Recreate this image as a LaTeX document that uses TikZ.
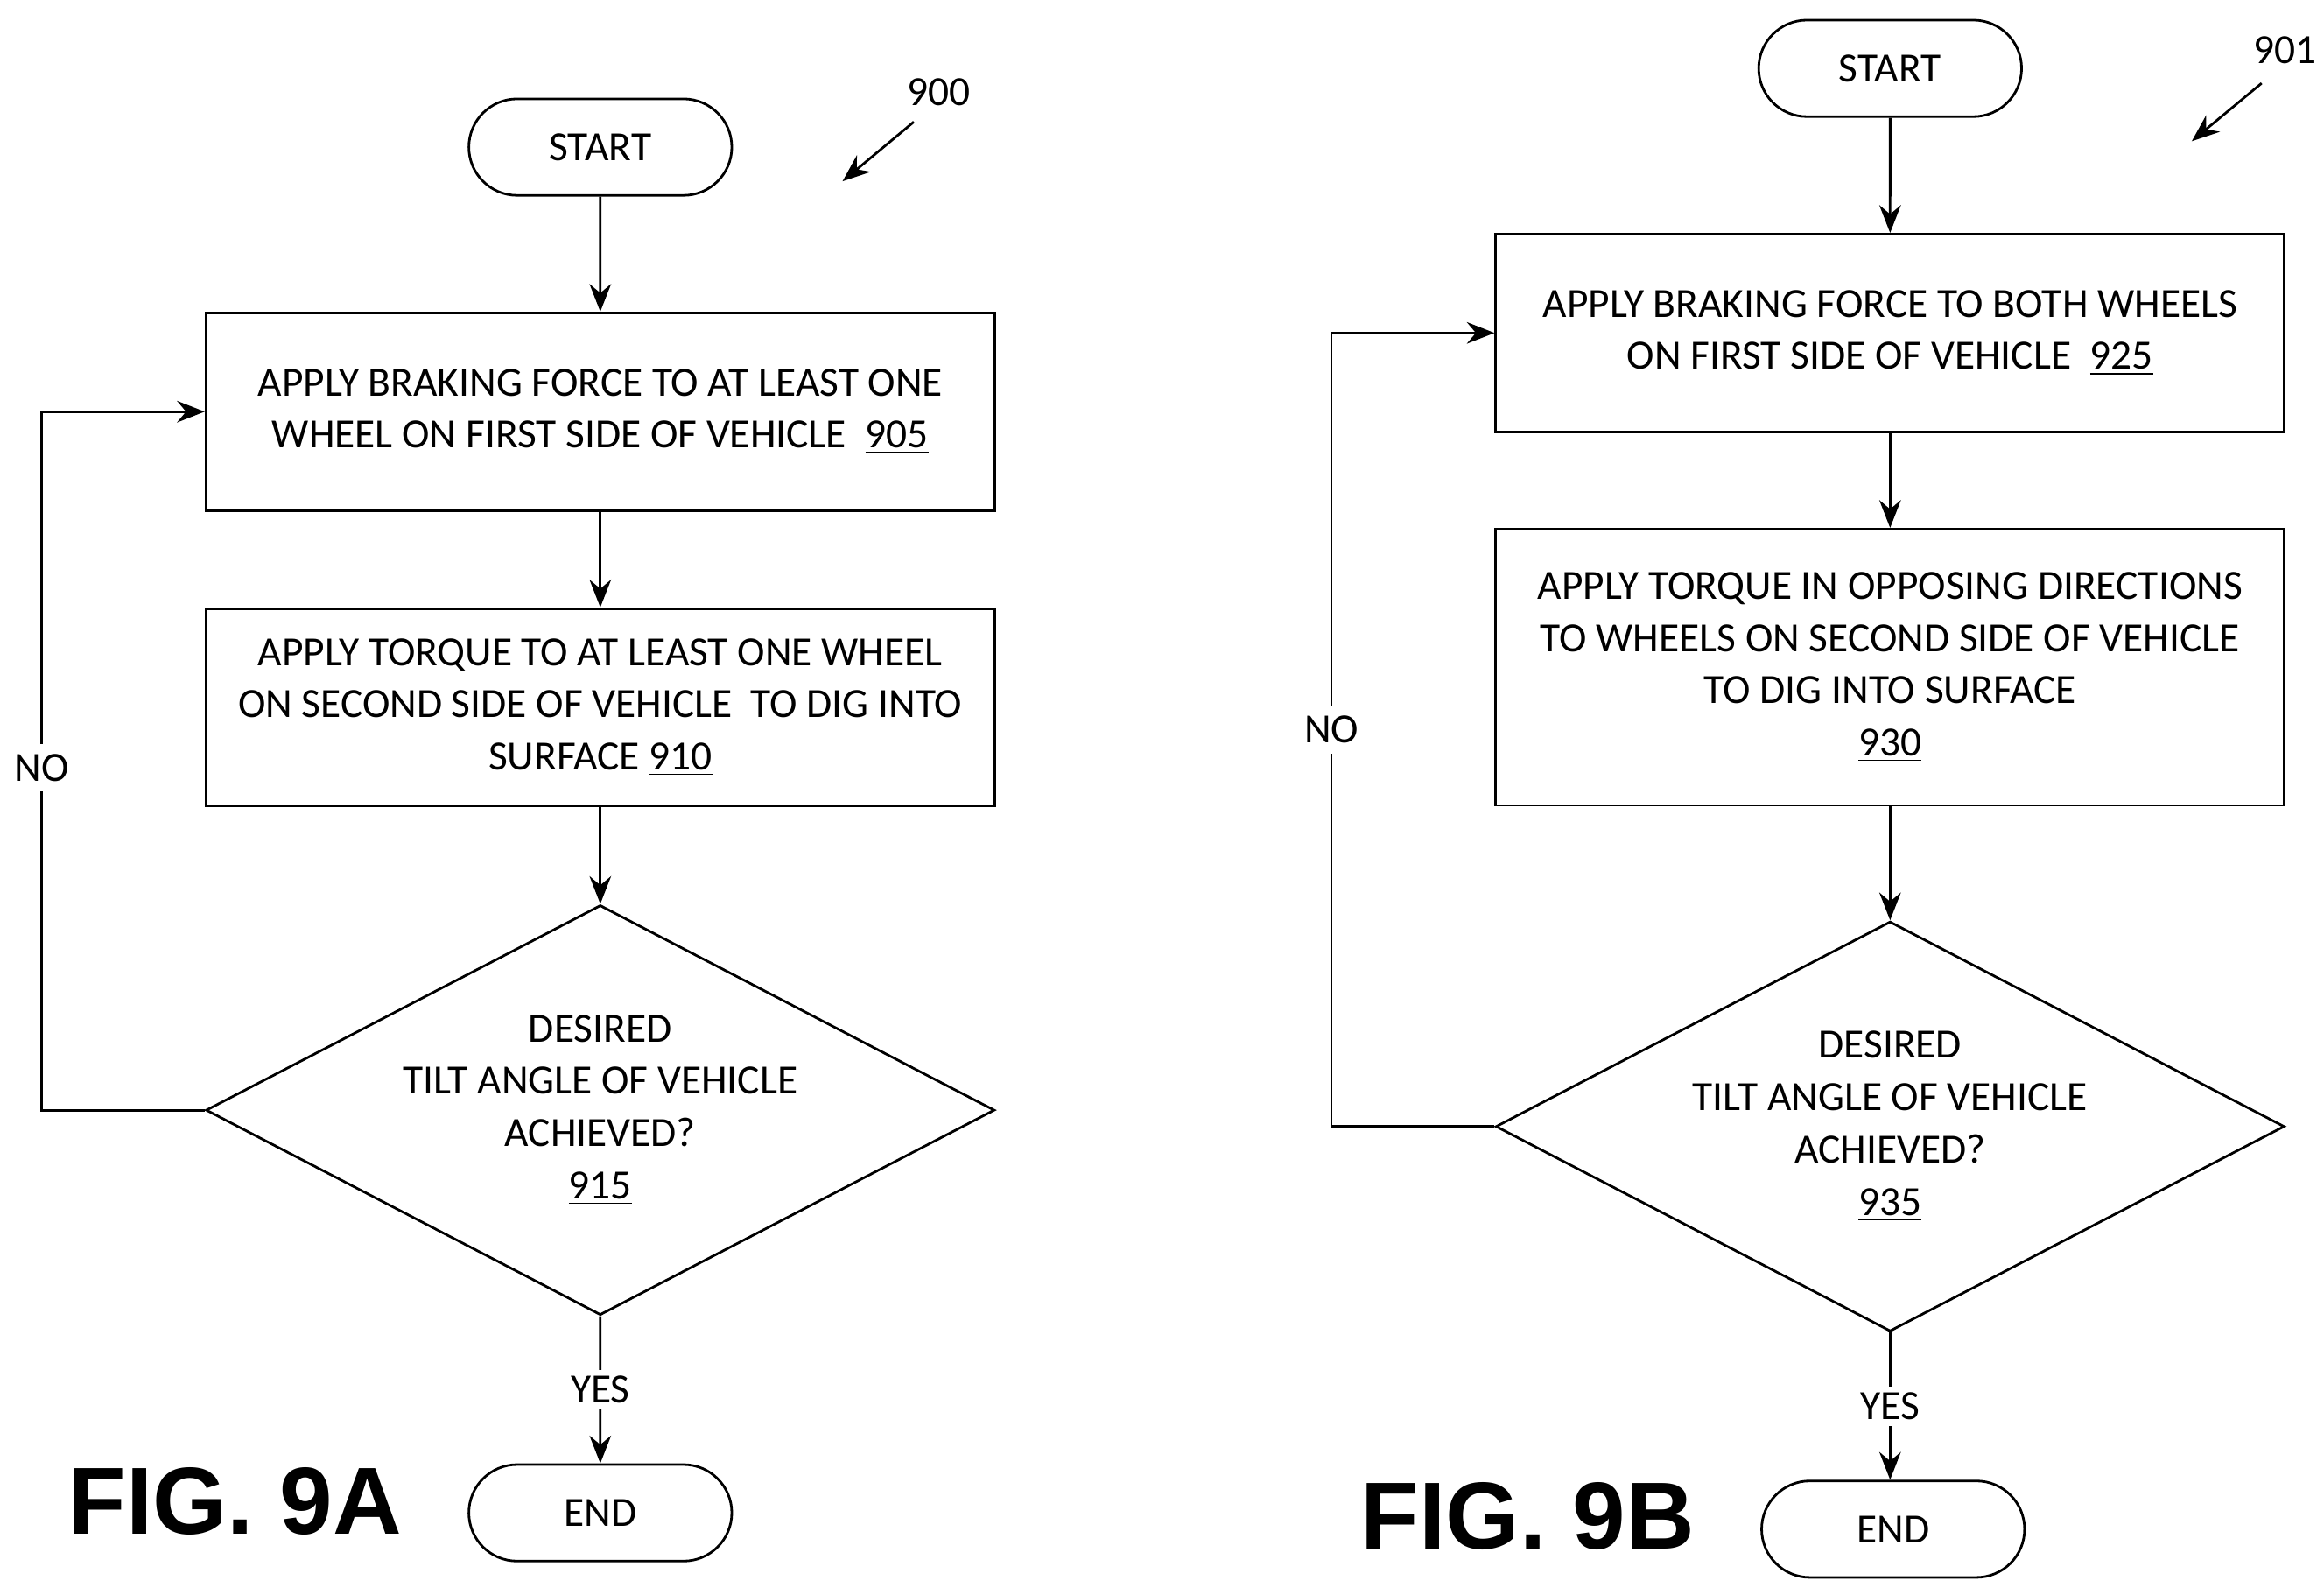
\documentclass[tikz,border=0pt]{standalone}
\usepackage{fontspec}
\setmainfont{Carlito}
\newfontfamily\figfont{Liberation Sans}
\usetikzlibrary{positioning,shapes.geometric,shapes.misc,arrows.meta}
\tikzset{>={Stealth[length=9pt,width=7pt]}}
\tikzset{
  flow/.style={draw,thick,align=center,font=\fontsize{13.5}{17}\selectfont,inner sep=0pt},
  action/.style={flow,rectangle,minimum width=9.014cm},
  term/.style={flow,rounded rectangle,minimum width=3.005cm,minimum height=1.103cm},
  test/.style={flow,diamond,minimum width=9.014cm,minimum height=4.685cm,aspect=1.92},
  tag/.style={font=\fontsize{13.5}{17}\selectfont},
  fig/.style={font=\figfont\bfseries\fontsize{31}{36}\selectfont}
}
\begin{document}
\begin{tikzpicture}[x=0.016976cm,y=-0.016976cm]
\useasboundingbox (0,0) rectangle (1564,1073);
% FIG. 9A
\node[term] (startA) at (404,99) {START};
\node[action,minimum height=2.258cm] (brakeA) at (404,277) {APPLY BRAKING FORCE TO AT LEAST ONE\\WHEEL ON FIRST SIDE OF VEHICLE \ \underline{905}};
\node[action,minimum height=2.258cm] (torqueA) at (404,476) {APPLY TORQUE TO AT LEAST ONE WHEEL\\ON SECOND SIDE OF VEHICLE \ TO DIG INTO\\SURFACE \underline{910}};
\node[test] (tiltA) at (404,747) {DESIRED\\TILT ANGLE OF VEHICLE\\ACHIEVED?\\\underline{915}};
\node[term] (endA) at (404,1018) {END};
\coordinate (loopA) at (28,747);
\draw[thick,->] (startA) -- (brakeA);
\draw[thick,->] (brakeA) -- (torqueA);
\draw[thick,->] (torqueA) -- (tiltA);
\draw[thick,->] (tiltA) -- node[tag,fill=white,inner sep=2pt] {YES} (endA);
\draw[thick,->] (tiltA.west) -- (loopA) -- node[tag,fill=white,pos=0.49] {NO} (loopA |- brakeA) -- (brakeA.west);
\node[tag] (refA) at (632,62) {900};
\coordinate (refAtip) at (567,122);
\draw[thick,->] (615,82) -- (refAtip);
\node[fig] (figA) at (158,1010) {FIG. 9A};
% FIG. 9B
\node[term] (startB) at (1272,46) {START};
\node[action,minimum height=2.258cm] (brakeB) at (1272,224) {APPLY BRAKING FORCE TO BOTH WHEELS\\ON FIRST SIDE OF VEHICLE \ \underline{925}};
\node[action,minimum height=3.158cm] (torqueB) at (1272,449) {APPLY TORQUE IN OPPOSING DIRECTIONS\\TO WHEELS ON SECOND SIDE OF VEHICLE\\TO DIG INTO SURFACE\\\underline{930}};
\node[test] (tiltB) at (1272,758) {DESIRED\\TILT ANGLE OF VEHICLE\\ACHIEVED?\\\underline{935}};
\node[term] (endB) at (1274,1029) {END};
\coordinate (loopB) at (896,758);
\draw[thick,->] (startB) -- (brakeB);
\draw[thick,->] (brakeB) -- (torqueB);
\draw[thick,->] (torqueB) -- (tiltB);
\draw[thick,->] (tiltB) -- node[tag,fill=white,inner sep=2pt] {YES} (tiltB |- endB.north);
\draw[thick,->] (tiltB.west) -- (loopB) -- node[tag,fill=white,pos=0.5] {NO} (loopB |- brakeB) -- (brakeB.west);
\node[tag] (refB) at (1538,34) {901};
\coordinate (refBtip) at (1475,95);
\draw[thick,->] (1522,56) -- (refBtip);
\node[fig] (figB) at (1028,1020) {FIG. 9B};
\end{tikzpicture}
\end{document}
